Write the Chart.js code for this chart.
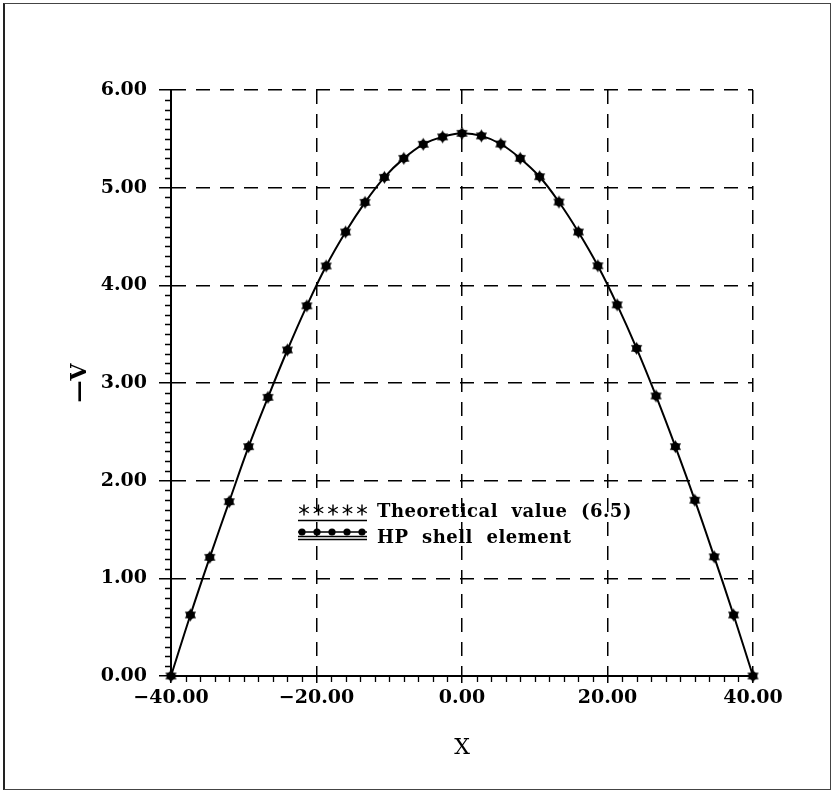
<!DOCTYPE html>
<html>
<head>
<meta charset="utf-8">
<script src="https://cdn.jsdelivr.net/npm/chart.js@4.4.1/dist/chart.umd.min.js"></script>
<style>
  body { margin: 0; background: #fff; }
  #wrap { position: relative; width: 832px; height: 795px; }
  #frame { position: absolute; left: 3px; top: 3px; width: 825px; height: 785px;
           border-left: 2px solid #222; border-top: 1px solid #444;
           border-right: 1px solid #444; border-bottom: 1px solid #444; pointer-events: none; }
</style>
</head>
<body>
<div id="wrap">
  <canvas id="grafica" width="832" height="795"></canvas>
  <div id="frame"></div>
</div>
<script>
// Posiciones X de los nodos
const posX = [-40, -37.33, -34.67, -32, -29.33, -26.67, -24, -21.33, -18.67, -16, -13.33,
  -10.67, -8, -5.33, -2.67, 0, 2.67, 5.33, 8, 10.67, 13.33, 16, 18.67, 21.33, 24, 26.67,
  29.33, 32, 34.67, 37.33, 40];

// Valor teórico (6.5)
const teorico = [0, 0.625, 1.215, 1.785, 2.348, 2.853, 3.338, 3.79, 4.198, 4.546, 4.85,
  5.106, 5.30, 5.444, 5.52, 5.556, 5.53, 5.447, 5.30, 5.112, 4.853, 4.546, 4.20, 3.80,
  3.355, 2.867, 2.348, 1.80, 1.22, 0.625, 0];

// Elemento HP shell
const hpShell = [0, 0.625, 1.215, 1.785, 2.348, 2.853, 3.338, 3.79, 4.198, 4.546, 4.85,
  5.106, 5.30, 5.444, 5.52, 5.556, 5.53, 5.447, 5.30, 5.112, 4.853, 4.546, 4.20, 3.80,
  3.355, 2.867, 2.348, 1.80, 1.22, 0.625, 0];

const ticksX = [-40, -20, 0, 20, 40];
const ticksY = [0, 1, 2, 3, 4, 5, 6];
const etiquetas = ['Theoretical  value  (6.5)', 'HP  shell  element'];

const fuente = 'DejaVu Serif';
const fmt = v => v.toFixed(2).replace('-', '\u2212');

// Estrella de seis puntas para los marcadores
function hexagrama(r) {
  const c = document.createElement('canvas');
  const s = Math.ceil(r * 2 + 2);
  c.width = s; c.height = s;
  const g = c.getContext('2d');
  const m = s / 2;
  g.fillStyle = '#000';
  [ -Math.PI / 2, Math.PI / 2 ].forEach(a0 => {
    g.beginPath();
    for (let k = 0; k < 3; k++) {
      const a = a0 + k * 2 * Math.PI / 3;
      g.lineTo(m + r * Math.cos(a), m + r * Math.sin(a));
    }
    g.closePath();
    g.fill();
  });
  g.beginPath();
  g.arc(m, m, r * 0.62, 0, Math.PI * 2);
  g.fill();
  return c;
}

function asterisco(ctx, x, y, r) {
  ctx.beginPath();
  for (let k = 0; k < 3; k++) {
    const a = Math.PI / 2 + k * Math.PI / 3;
    ctx.moveTo(x - r * Math.cos(a), y - r * Math.sin(a));
    ctx.lineTo(x + r * Math.cos(a), y + r * Math.sin(a));
  }
  ctx.stroke();
}

// Marcas menores de los ejes
const marcasMenores = {
  id: 'marcasMenores',
  afterDraw(chart) {
    const { ctx, chartArea, scales } = chart;
    ctx.save();
    ctx.strokeStyle = '#000';
    ctx.lineWidth = 1.3;
    ctx.beginPath();
    for (let v = -40; v <= 40; v += 2) {
      if (v % 20 === 0) continue;
      const px = Math.round(scales.x.getPixelForValue(v)) + 0.5;
      ctx.moveTo(px, chartArea.bottom);
      ctx.lineTo(px, chartArea.bottom + 6);
    }
    for (let i = 0; i <= 60; i++) {
      if (i % 10 === 0) continue;
      const py = Math.round(scales.y.getPixelForValue(i / 10)) + 0.5;
      ctx.moveTo(chartArea.left - 6, py);
      ctx.lineTo(chartArea.left, py);
    }
    ctx.stroke();
    ctx.restore();
  }
};

// Leyenda dentro del area
const leyenda = {
  id: 'leyenda',
  afterDraw(chart) {
    const ctx = chart.ctx;
    ctx.save();
    ctx.fillStyle = '#000';
    ctx.strokeStyle = '#000';
    ctx.font = 'bold 18px "' + fuente + '"';
    ctx.letterSpacing = '0.5px';
    ctx.textBaseline = 'alphabetic';
    // fila 1
    ctx.lineWidth = 1.4;
    for (let k = 0; k < 5; k++) asterisco(ctx, 304 + k * 14.5, 510, 5.5);
    ctx.beginPath();
    ctx.moveTo(298, 520.5); ctx.lineTo(367, 520.5);
    ctx.stroke();
    ctx.fillText(etiquetas[0], 377, 517);
    // fila 2
    ctx.lineWidth = 1.5;
    ctx.beginPath();
    ctx.moveTo(298, 532); ctx.lineTo(367, 532);
    ctx.moveTo(298, 536.5); ctx.lineTo(367, 536.5);
    ctx.moveTo(298, 539.5); ctx.lineTo(367, 539.5);
    ctx.stroke();
    for (let k = 0; k < 5; k++) {
      ctx.beginPath();
      ctx.arc(302 + k * 15, 532, 3.6, 0, Math.PI * 2);
      ctx.fill();
    }
    ctx.fillText(etiquetas[1], 377, 543);
    ctx.restore();
  }
};

new Chart(document.getElementById('grafica'), {
  type: 'scatter',
  data: {
    datasets: [
      {
        label: etiquetas[0],
        data: posX.map((x, i) => ({ x, y: teorico[i] })),
        showLine: true,
        tension: 0.4,
        borderColor: '#000',
        borderWidth: 2,
        backgroundColor: '#000',
        pointStyle: hexagrama(6.5),
        clip: false
      },
      {
        label: etiquetas[1],
        data: posX.map((x, i) => ({ x, y: hpShell[i] })),
        showLine: false,
        borderColor: '#000',
        backgroundColor: '#000',
        pointStyle: 'circle',
        pointRadius: 3.5,
        clip: false
      }
    ]
  },
  options: {
    responsive: false,
    animation: false,
    layout: { padding: { left: 0, top: 90, right: 79, bottom: 0 } },
    plugins: { legend: { display: false }, tooltip: { enabled: false } },
    scales: {
      x: {
        type: 'linear',
        min: -40, max: 40,
        afterBuildTicks: s => { s.ticks = ticksX.map(v => ({ value: v })); },
        afterFit: s => { s.height = 119; },
        ticks: { callback: fmt, color: '#000', padding: 4, maxRotation: 0,
                 font: { family: fuente, size: 19, weight: 'bold' } },
        grid: { color: '#000', lineWidth: 1.5, tickLength: 7, tickColor: '#000', tickWidth: 1.5 },
        border: { display: true, color: '#000', width: 2, dash: [14, 10] },
        title: { display: true, text: 'X', color: '#000', padding: { bottom: 34 },
                 font: { family: fuente, size: 22, weight: 'normal' } }
      },
      y: {
        type: 'linear',
        min: 0, max: 6,
        afterBuildTicks: s => { s.ticks = ticksY.map(v => ({ value: v })); },
        afterFit: s => { s.width = 171; },
        ticks: { callback: fmt, color: '#000', padding: 12,
                 font: { family: fuente, size: 19, weight: 'bold' } },
        grid: { color: '#000', lineWidth: 1.5, tickLength: 12, tickColor: '#000', tickWidth: 1.5 },
        border: { display: true, color: '#000', width: 2, dash: [14, 10] },
        title: { display: true, text: '\u2014V', color: '#000', padding: { top: 67 },
                 font: { family: fuente, size: 22, weight: 'bold' } }
      }
    }
  },
  plugins: [marcasMenores, leyenda]
});
</script>
</body>
</html>
